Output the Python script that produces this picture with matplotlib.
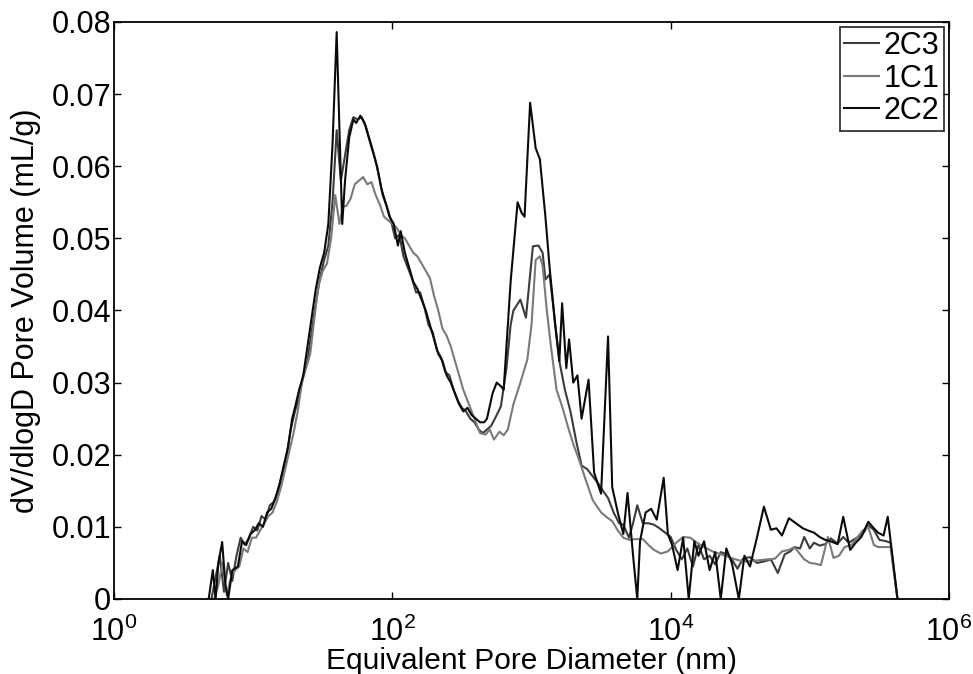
import numpy as np
import matplotlib
matplotlib.use("Agg")
import matplotlib.pyplot as plt
from matplotlib.ticker import FixedLocator, NullLocator, FuncFormatter

plt.rcParams['font.family'] = ['Liberation Sans', 'DejaVu Sans']
plt.rcParams['mathtext.fontset'] = 'custom'
plt.rcParams['mathtext.rm'] = 'Liberation Sans'
plt.rcParams['mathtext.default'] = 'regular'

# ---- data (log10 of pore diameter in nm, dV/dlogD in mL/g) ----
series_names = ["2C3", "1C1", "2C2"]

logd_2c2 = [0.68, 0.71, 0.73, 0.75, 0.777, 0.80, 0.82, 0.85, 0.89, 0.92, 0.95, 0.98, 1.01, 1.04, 1.07, 1.10,
            1.13, 1.16, 1.19, 1.22, 1.25, 1.28, 1.30, 1.33, 1.36, 1.39, 1.42, 1.45, 1.48, 1.51, 1.54, 1.57,
            1.60, 1.62, 1.64, 1.66, 1.69, 1.72, 1.74, 1.77, 1.80, 1.83, 1.86, 1.89, 1.92, 1.95, 1.98, 2.01,
            2.04, 2.06, 2.09, 2.12, 2.15, 2.18, 2.21, 2.24, 2.27, 2.30, 2.33, 2.36, 2.39, 2.42, 2.45, 2.48,
            2.51, 2.54, 2.57, 2.60, 2.63, 2.66, 2.68, 2.72, 2.75, 2.78, 2.80, 2.85, 2.90, 2.93, 2.95, 2.99,
            3.03, 3.06, 3.10, 3.13, 3.17, 3.20, 3.22, 3.25, 3.27, 3.30, 3.33, 3.36, 3.41, 3.45, 3.50, 3.55,
            3.58, 3.62, 3.66, 3.69, 3.73, 3.76, 3.78, 3.82, 3.86, 3.90, 3.95, 3.98, 4.01, 4.05, 4.09, 4.13,
            4.17, 4.20, 4.24, 4.28, 4.32, 4.36, 4.40, 4.44, 4.49, 4.53, 4.57, 4.62, 4.67, 4.72, 4.76, 4.80,
            4.85, 4.90, 4.95, 5.00, 5.03, 5.07, 5.11, 5.15, 5.20, 5.24, 5.29, 5.33, 5.37, 5.42, 5.46, 5.49,
            5.53, 5.56, 5.63]
vol_2c2 = [0.0, 0.004, 0.0, 0.005, 0.0079, 0.002, 0.0, 0.004, 0.0045, 0.008, 0.0075, 0.009, 0.0095, 0.0105, 0.0100, 0.012,
           0.0125, 0.014, 0.016, 0.0185, 0.021, 0.025, 0.0265, 0.029, 0.031, 0.035, 0.039, 0.043, 0.046, 0.048, 0.052, 0.063,
           0.0786, 0.065, 0.052, 0.058, 0.064, 0.0665, 0.0660, 0.067, 0.066, 0.064, 0.062, 0.060, 0.057, 0.055, 0.053, 0.052,
           0.049, 0.051, 0.048, 0.046, 0.044, 0.043, 0.0415, 0.040, 0.038, 0.036, 0.034, 0.033, 0.031, 0.030, 0.0285, 0.027,
           0.026, 0.0265, 0.0255, 0.025, 0.0245, 0.0245, 0.025, 0.0285, 0.030, 0.0295, 0.029, 0.044, 0.055, 0.0535, 0.053, 0.0688,
           0.0625, 0.061, 0.053, 0.046, 0.038, 0.033, 0.041, 0.032, 0.036, 0.030, 0.031, 0.025, 0.0304, 0.0175, 0.0146, 0.0364,
           0.0155, 0.012, 0.009, 0.0147, 0.006, 0.0, 0.008, 0.012, 0.0125, 0.011, 0.0168, 0.009, 0.0075, 0.004, 0.0085, 0.0,
           0.008, 0.006, 0.008, 0.004, 0.0065, 0.0, 0.007, 0.005, 0.0, 0.006, 0.0045, 0.0085, 0.0128, 0.0096, 0.0098, 0.0088,
           0.0112, 0.0105, 0.0098, 0.0094, 0.0092, 0.0086, 0.0082, 0.0080, 0.0076, 0.0114, 0.0068, 0.0078, 0.0086, 0.0107, 0.0098, 0.0092,
           0.0088, 0.0114, 0.0]

logd_2c3 = [0.70, 0.73, 0.76, 0.79, 0.82, 0.85, 0.88, 0.91, 0.94, 0.97, 1.00, 1.03, 1.06, 1.09, 1.12, 1.15,
            1.18, 1.21, 1.24, 1.27, 1.30, 1.33, 1.36, 1.39, 1.42, 1.45, 1.48, 1.51, 1.54, 1.57, 1.60, 1.63,
            1.66, 1.69, 1.72, 1.75, 1.78, 1.81, 1.84, 1.87, 1.90, 1.93, 1.96, 1.99, 2.02, 2.05, 2.08, 2.11,
            2.14, 2.17, 2.20, 2.23, 2.26, 2.29, 2.32, 2.35, 2.38, 2.41, 2.44, 2.47, 2.50, 2.53, 2.56, 2.59,
            2.62, 2.65, 2.68, 2.71, 2.75, 2.78, 2.82, 2.85, 2.87, 2.92, 2.96, 3.01, 3.05, 3.08, 3.10, 3.13,
            3.16, 3.20, 3.24, 3.28, 3.32, 3.36, 3.40, 3.44, 3.48, 3.51, 3.55, 3.59, 3.63, 3.66, 3.70, 3.73,
            3.76, 3.80, 3.84, 3.88, 3.92, 3.96, 4.00, 4.04, 4.08, 4.12, 4.16, 4.20, 4.24, 4.28, 4.32, 4.36,
            4.40, 4.44, 4.48, 4.52, 4.57, 4.62, 4.67, 4.72, 4.77, 4.82, 4.86, 4.89, 4.93, 4.96, 5.00, 5.03,
            5.07, 5.11, 5.15, 5.20, 5.24, 5.28, 5.33, 5.38, 5.42, 5.46, 5.50, 5.55, 5.58, 5.63]
vol_2c3 = [0.0, 0.003, 0.006, 0.001, 0.005, 0.0025, 0.006, 0.0085, 0.0075, 0.0085, 0.010, 0.0095, 0.0115, 0.011, 0.013, 0.0135,
           0.015, 0.0175, 0.020, 0.0235, 0.026, 0.028, 0.031, 0.033, 0.037, 0.041, 0.0445, 0.047, 0.049, 0.055, 0.065, 0.058,
           0.0615, 0.065, 0.0668, 0.0665, 0.0668, 0.0655, 0.0635, 0.0615, 0.059, 0.056, 0.0545, 0.0525, 0.050, 0.0505, 0.0475, 0.046,
           0.0445, 0.0425, 0.0425, 0.0405, 0.038, 0.037, 0.0345, 0.0335, 0.0315, 0.031, 0.029, 0.0275, 0.0265, 0.026, 0.025, 0.0245,
           0.0235, 0.023, 0.0235, 0.024, 0.0255, 0.0267, 0.032, 0.038, 0.040, 0.0415, 0.039, 0.0489, 0.049, 0.048, 0.0443, 0.045,
           0.040, 0.033, 0.029, 0.026, 0.022, 0.0185, 0.018, 0.017, 0.016, 0.0151, 0.014, 0.012, 0.0105, 0.0103, 0.0085, 0.0105,
           0.013, 0.0105, 0.0105, 0.0103, 0.0098, 0.0092, 0.0086, 0.0068, 0.0055, 0.007, 0.0045, 0.0075, 0.0055, 0.006, 0.0048, 0.0065,
           0.0062, 0.0055, 0.0042, 0.0056, 0.0058, 0.005, 0.0052, 0.0055, 0.0036, 0.0062, 0.0066, 0.0072, 0.007, 0.0086, 0.007, 0.0078,
           0.0074, 0.0076, 0.0084, 0.0077, 0.0086, 0.0078, 0.0084, 0.009, 0.0102, 0.0096, 0.0082, 0.008, 0.0078, 0.0]

logd_1c1 = [0.72, 0.75, 0.78, 0.81, 0.84, 0.87, 0.90, 0.93, 0.96, 0.99, 1.02, 1.05, 1.08, 1.11, 1.14, 1.17,
            1.20, 1.23, 1.26, 1.29, 1.32, 1.35, 1.38, 1.41, 1.44, 1.47, 1.50, 1.53, 1.56, 1.59, 1.62, 1.645,
            1.67, 1.70, 1.73, 1.76, 1.79, 1.82, 1.85, 1.88, 1.91, 1.94, 1.97, 2.00, 2.03, 2.06, 2.09, 2.12,
            2.15, 2.18, 2.21, 2.24, 2.27, 2.30, 2.33, 2.36, 2.39, 2.42, 2.45, 2.48, 2.51, 2.54, 2.57, 2.60,
            2.63, 2.67, 2.70, 2.73, 2.77, 2.80, 2.83, 2.87, 2.92, 2.97, 3.00, 3.03, 3.06, 3.08, 3.11, 3.14,
            3.18, 3.22, 3.26, 3.30, 3.34, 3.39, 3.44, 3.50, 3.55, 3.58, 3.62, 3.66, 3.70, 3.75, 3.80, 3.84,
            3.88, 3.93, 3.98, 4.04, 4.09, 4.14, 4.19, 4.24, 4.30, 4.36, 4.42, 4.48, 4.54, 4.60, 4.65, 4.70,
            4.75, 4.80, 4.85, 4.89, 4.93, 4.96, 5.00, 5.04, 5.08, 5.13, 5.17, 5.21, 5.25, 5.30, 5.34, 5.38,
            5.42, 5.46, 5.49, 5.53, 5.58, 5.63]
vol_1c1 = [0.0, 0.002, 0.005, 0.0005, 0.003, 0.004, 0.0045, 0.007, 0.0065, 0.0085, 0.0085, 0.0095, 0.0105, 0.0115, 0.012, 0.0135,
           0.0155, 0.018, 0.0205, 0.023, 0.026, 0.030, 0.032, 0.034, 0.039, 0.0435, 0.0455, 0.0465, 0.050, 0.056, 0.052, 0.0544,
           0.0545, 0.0555, 0.0575, 0.058, 0.0585, 0.0575, 0.0578, 0.056, 0.0547, 0.053, 0.0525, 0.052, 0.0515, 0.0505, 0.050, 0.049,
           0.048, 0.0475, 0.0465, 0.0455, 0.0445, 0.042, 0.040, 0.0375, 0.0365, 0.035, 0.033, 0.031, 0.029, 0.0275, 0.026, 0.0245,
           0.023, 0.0228, 0.0235, 0.0221, 0.0232, 0.0227, 0.0235, 0.027, 0.030, 0.0332, 0.038, 0.047, 0.0475, 0.0462, 0.040, 0.035,
           0.029, 0.0267, 0.024, 0.0215, 0.0194, 0.0165, 0.0137, 0.012, 0.0112, 0.0108, 0.0095, 0.0085, 0.0082, 0.0083, 0.0083, 0.0075,
           0.0068, 0.0063, 0.0066, 0.0078, 0.0086, 0.0085, 0.0078, 0.0072, 0.0066, 0.0062, 0.0058, 0.0054, 0.0052, 0.0053, 0.0054, 0.0055,
           0.0056, 0.0066, 0.0068, 0.0072, 0.0062, 0.0055, 0.0050, 0.0049, 0.0047, 0.0086, 0.0057, 0.0060, 0.0072, 0.0075, 0.0085, 0.0095,
           0.0100, 0.0075, 0.0072, 0.0072, 0.0072, 0.0]

x_ticks = [1e0, 1e2, 1e4, 1e6]
y_ticks = [0, 0.01, 0.02, 0.03, 0.04, 0.05, 0.06, 0.07, 0.08]
y_tick_labels = ["0", "0.01", "0.02", "0.03", "0.04", "0.05", "0.06", "0.07", "0.08"]

series = {
    "2C3": (logd_2c3, vol_2c3, "#3c3c3c"),
    "1C1": (logd_1c1, vol_1c1, "#7a7a7a"),
    "2C2": (logd_2c2, vol_2c2, "#0a0a0a"),
}

fig = plt.figure(figsize=(9.73, 6.74), dpi=100)
ax = fig.add_axes([0.1172, 0.1113, 0.8581, 0.8561])

for name in series_names:
    lx, vy, col = series[name]
    ax.plot(10 ** np.array(lx), vy, color=col, lw=1.5, label=name)

ax.set_xscale("log")
ax.set_xlim(1, 1e6)
ax.set_ylim(0, 0.08)
ax.xaxis.set_major_locator(FixedLocator(x_ticks))
ax.xaxis.set_minor_locator(NullLocator())
ax.xaxis.set_major_formatter(FuncFormatter(lambda v, p: r"$10^{%d}$" % int(round(np.log10(v)))))
ax.set_yticks(y_ticks)
ax.set_yticklabels(y_tick_labels)

ax.tick_params(axis="both", which="major", direction="in", length=5, width=1,
               labelsize=22, top=True, right=True)
ax.tick_params(axis="x", pad=12.5)
ax.tick_params(axis="y", pad=2)
for s in ax.spines.values():
    s.set_linewidth(1.3)

ax.set_xlabel("Equivalent Pore Diameter (nm)", fontsize=21.5, labelpad=-0.5)
ax.set_ylabel("dV/dlogD Pore Volume (mL/g)", fontsize=22, labelpad=8)

leg = ax.legend(loc="upper right", fontsize=22, frameon=True, fancybox=False,
                edgecolor="black", handlelength=1.15, handletextpad=0.15,
                borderpad=0.15, labelspacing=0.08, borderaxespad=0.15)
leg.get_frame().set_linewidth(1.3)

fig.savefig("out.png", dpi=100)
